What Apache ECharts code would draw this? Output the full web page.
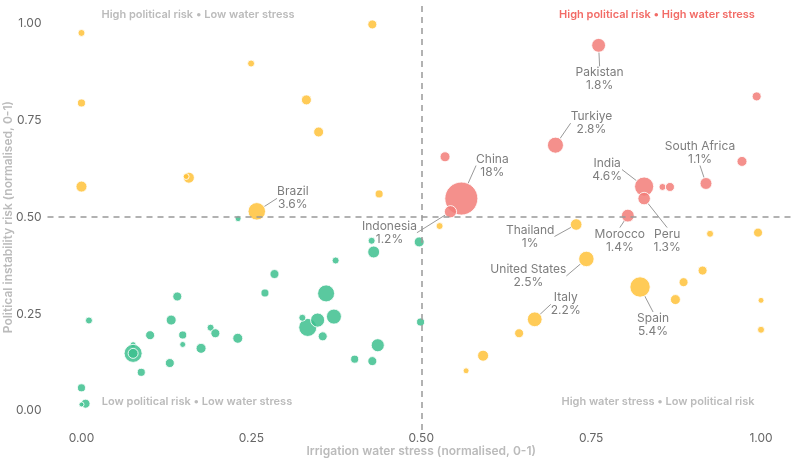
<!DOCTYPE html>
<html>
<head>
<meta charset="utf-8">
<script src="https://cdn.jsdelivr.net/npm/echarts@6/dist/echarts.min.js"></script>
<style>
  html, body { margin: 0; padding: 0; background: #fff; }
  #chart { width: 799px; height: 460px; }
</style>
</head>
<body>
<div id="chart"></div>
<script>
// [water stress, political risk, share of irrigated area %, label]
const lowLowPoints = [
  [0.427, 0.439, 0.09], [0.430, 0.410, 1.1], [0.497, 0.436, 0.57], [0.374, 0.388, 0.09],
  [0.284, 0.353, 0.37], [0.270, 0.304, 0.21], [0.360, 0.303, 3.3], [0.141, 0.295, 0.37],
  [0.011, 0.233, 0.09], [0.132, 0.234, 0.57], [0.333, 0.215, 3.9], [0.325, 0.240, 0.09],
  [0.3475, 0.234, 1.9], [0.3715, 0.243, 2.3], [0.190, 0.2145, 0.09], [0.197, 0.200, 0.37],
  [0.101, 0.195, 0.37], [0.149, 0.1955, 0.21], [0.230, 0.187, 0.57], [0.355, 0.192, 0.37],
  [0.149, 0.171, 0.02], [0.076, 0.1705, 0.02], [0.076, 0.148, 3.9], [0.076, 0.148, 0.57],
  [0.176, 0.161, 0.57], [0.436, 0.169, 1.5], [0.402, 0.133, 0.21], [0.428, 0.128, 0.37],
  [0.130, 0.123, 0.37], [0.088, 0.099, 0.21], [0.000, 0.059, 0.21], [0.006, 0.018, 0.37],
  [0.000, 0.016, 0], [0.499, 0.229, 0.21], [0.2305, 0.496, 0.02]
];

const oneHighPoints = [
  [0.000, 0.976, 0.09], [0.428, 0.998, 0.37], [0.2496, 0.897, 0.09], [0.000, 0.795, 0.21],
  [0.331, 0.803, 0.57], [0.349, 0.720, 0.57], [0.000, 0.579, 0.83], [0.158, 0.602, 0.83],
  [0.154, 0.605, 0.02], [0.438, 0.560, 0.21], [0.258, 0.515, 3.6, "Brazil"],
  [0.527, 0.477, 0.09], [0.728, 0.481, 1, "Thailand"], [0.925, 0.457, 0.09],
  [0.9956, 0.460, 0.37], [0.743, 0.392, 2.5, "United States"], [0.914, 0.362, 0.37],
  [0.886, 0.332, 0.37], [0.822, 0.3195, 5.4, "Spain"], [0.874, 0.287, 0.57],
  [1.000, 0.285, 0.02], [0.667, 0.236, 2.2, "Italy"], [1.000, 0.209, 0.09],
  [0.644, 0.200, 0.37], [0.591, 0.142, 0.83], [0.566, 0.103, 0.02]
];

const highHighPoints = [
  [0.761, 0.944, 1.8, "Pakistan"], [0.9936, 0.812, 0.37], [0.6975, 0.686, 2.8, "Turkiye"],
  [0.535, 0.656, 0.57], [0.972, 0.644, 0.57], [0.919, 0.587, 1.1, "South Africa"],
  [0.828, 0.579, 4.6, "India"], [0.855, 0.578, 0.09], [0.866, 0.578, 0.37],
  [0.828, 0.548, 1.3, "Peru"], [0.559, 0.548, 18, "China"], [0.543, 0.514, 1.2, "Indonesia"],
  [0.804, 0.504, 1.4, "Morocco"]
];

const tickValues = [0, 0.25, 0.5, 0.75, 1];
const thresholdX = 0.5;
const thresholdY = 0.5;

// label nudges in px (label centre minus bubble centre)
const labelOffsets = {
  "Brazil": [36, -13],
  "Pakistan": [1, 34],
  "Turkiye": [36, -22],
  "China": [31, -33],
  "India": [-37, -17],
  "South Africa": [-6, -31],
  "Indonesia": [-61, 21],
  "Thailand": [-46, 12],
  "Morocco": [-8, 25],
  "Peru": [23, 42],
  "United States": [-58, 17],
  "Italy": [31, -15],
  "Spain": [13, 38],
};

const FONT = "Inter, 'Noto Sans', sans-serif";

function bubbleSeries(name, rows, color) {
  return {
    name,
    type: "scatter",
    z: 3,
    clip: false,
    data: rows.map((r) => ({
      value: [r[0], r[1], r[2]],
      name: r[3] || "",
      label: { show: !!r[3] },
    })),
    symbolSize: (v) => 5 + 6.6 * Math.sqrt(v[2]),
    itemStyle: { color, opacity: 0.85, borderColor: "#fff", borderWidth: 1 },
    label: {
      show: false,
      position: "inside",
      formatter: (p) => p.name + "\n" + p.value[2] + "%",
      color: "#666",
      fontSize: 12,
      lineHeight: 13,
      fontFamily: FONT,
    },
    labelLine: { show: true, lineStyle: { color: "#999", width: 1 } },
    labelLayout: (p) => {
      const r = rows[p.dataIndex];
      const off = r && labelOffsets[r[3]];
      return off ? { dx: off[0], dy: off[1] } : {};
    },
    emphasis: { disabled: true },
  };
}

const chart = echarts.init(document.getElementById("chart"));

const quadText = (text, x, y, color) => ({
  type: "text",
  x,
  y,
  silent: true,
  style: {
    text,
    fill: color,
    font: "600 11px " + FONT,
    align: "center",
    verticalAlign: "middle",
  },
});

chart.setOption({
  animation: false,
  backgroundColor: "#fff",
  grid: { left: 47.5, right: 4, top: 4.3, bottom: 30, outerBoundsMode: "none", containLabel: false },
  xAxis: {
    type: "value",
    min: -0.05,
    max: 1.05,
    name: "Irrigation water stress (normalised, 0-1)",
    nameLocation: "middle",
    nameGap: 15,
    nameMoveOverlap: false,
    nameTextStyle: { color: "#bbb", fontWeight: 600, fontSize: 12, fontFamily: FONT },
    axisLine: { show: false },
    axisTick: { show: false },
    splitLine: { show: false },
    axisLabel: {
      customValues: tickValues,
      formatter: (v) => v.toFixed(2),
      color: "#666",
      fontSize: 12,
      margin: 2,
      fontFamily: FONT,
    },
  },
  yAxis: {
    type: "value",
    min: -0.05,
    max: 1.05,
    name: "Political instability risk (normalised, 0-1)",
    nameLocation: "middle",
    nameGap: 33,
    nameMoveOverlap: false,
    nameTextStyle: { color: "#bbb", fontWeight: 600, fontSize: 12, fontFamily: FONT },
    axisLine: { show: false },
    axisTick: { show: false },
    splitLine: { show: false },
    axisLabel: {
      customValues: tickValues,
      formatter: (v) => v.toFixed(2),
      color: "#666",
      fontSize: 12,
      margin: 6,
      fontFamily: FONT,
    },
  },
  series: [
    {
      type: "scatter",
      data: [],
      z: 1,
      markLine: {
        silent: true,
        symbol: "none",
        label: { show: false },
        lineStyle: { color: "#999", width: 1.5, type: [6, 5] },
        data: [{ xAxis: thresholdX }, { yAxis: thresholdY }],
      },
    },
    bubbleSeries("Low risk, low stress", lowLowPoints, "#3dbf8e"),
    bubbleSeries("One risk high", oneHighPoints, "#ffc23a"),
    bubbleSeries("High risk, high stress", highHighPoints, "#f27c78"),
  ],
  graphic: [
    quadText("High political risk • Low water stress", 198, 15, "#bbb"),
    quadText("High political risk • High water stress", 657, 15, "#f26b66"),
    quadText("Low political risk • Low water stress", 197, 402, "#bbb"),
    quadText("High water stress • Low political risk", 658, 402, "#bbb"),
  ],
});
</script>
</body>
</html>
